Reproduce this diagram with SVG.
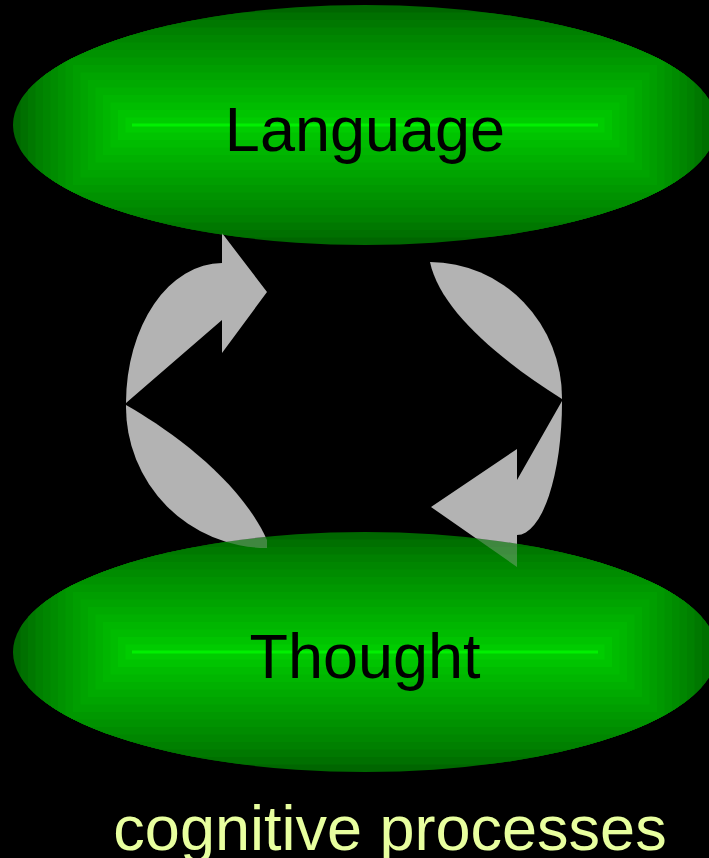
<svg xmlns="http://www.w3.org/2000/svg" xmlns:xlink="http://www.w3.org/1999/xlink" width="709" height="858" viewBox="0 0 709 858">
  <style>
    .lbl { font-family: "Liberation Sans", Arial, sans-serif; font-size: 63px; fill: #000000; text-anchor: middle; }
    .cap { font-family: "Liberation Sans", Arial, sans-serif; font-size: 63px; fill: #e8ff9f; text-anchor: middle; }
    .arrow { fill: #b3b3b3; stroke: none; }
  </style>
  <defs>
    <clipPath id="ellClip">
      <ellipse cx="0" cy="0" rx="352" ry="120"/>
    </clipPath>
    <g id="bands">
      <rect x="-352" y="-120" width="704" height="240" fill="#006600"/>
      <rect x="-344.5" y="-112.5" width="689" height="225" fill="#007000"/>
      <rect x="-337" y="-105" width="674" height="210" fill="#007800"/>
      <rect x="-329.5" y="-97.5" width="659" height="195" fill="#008000"/>
      <rect x="-322" y="-90" width="644" height="180" fill="#008600"/>
      <rect x="-314.5" y="-82.5" width="629" height="165" fill="#008c00"/>
      <rect x="-307" y="-75" width="614" height="150" fill="#009200"/>
      <rect x="-299.5" y="-67.5" width="599" height="135" fill="#009800"/>
      <rect x="-292" y="-60" width="584" height="120" fill="#009e00"/>
      <rect x="-284.5" y="-52.5" width="569" height="105" fill="#00a400"/>
      <rect x="-277" y="-45" width="554" height="90" fill="#00aa00"/>
      <rect x="-269.5" y="-37.5" width="539" height="75" fill="#00b000"/>
      <rect x="-262" y="-30" width="524" height="60" fill="#00b600"/>
      <rect x="-254.5" y="-22.5" width="509" height="45" fill="#00bc00"/>
      <rect x="-247" y="-15" width="494" height="30" fill="#00c400"/>
      <rect x="-239.5" y="-7.5" width="479" height="15" fill="#00cc00"/>
      <rect x="-233" y="-1.5" width="466" height="3" fill="#00f000"/>
    </g>
    <mask id="dim" maskUnits="userSpaceOnUse" x="0" y="0" width="709" height="858">
      <rect x="0" y="0" width="709" height="858" fill="#ffffff"/>
      <ellipse cx="365" cy="125" rx="352" ry="120" fill="#5a5a5a"/>
      <ellipse cx="365" cy="652" rx="352" ry="120" fill="#5a5a5a"/>
    </mask>
  </defs>

  <rect x="0" y="0" width="709" height="858" fill="#000000"/>

  <g id="language" transform="translate(365,125)">
    <g clip-path="url(#ellClip)">
      <use xlink:href="#bands" href="#bands"/>
    </g>
    <text class="lbl" x="0" y="26">Language</text>
  </g>

  <g id="thought" transform="translate(365,652)">
    <g clip-path="url(#ellClip)">
      <use xlink:href="#bands" href="#bands"/>
    </g>
    <text class="lbl" x="0" y="26">Thought</text>
  </g>

  <g id="connectors" mask="url(#dim)">
    <!-- left curved arrow: Thought to Language -->
    <path class="arrow" d="M 126,403 L 222,320 L 222,353 L 267,292 L 222,233 L 222,263 A 96,140 0 0 0 126,403 Z"/>
    <path class="arrow" d="M 126,405 A 141,141 0 0 0 267,548 L 267,540 C 240,480 170,430 126,405 Z"/>
    <!-- right curved arrow: Language to Thought -->
    <path class="arrow" d="M 430,262 A 132,136 0 0 1 562,399 C 500,360 440,310 430,262 Z"/>
    <path class="arrow" d="M 562,401 L 517,480 L 517,449 L 431,507 L 517,567 L 517,535 A 45,133 0 0 0 562,401 Z"/>
  </g>

  <text class="cap" x="390" y="850">cognitive processes</text>
</svg>
